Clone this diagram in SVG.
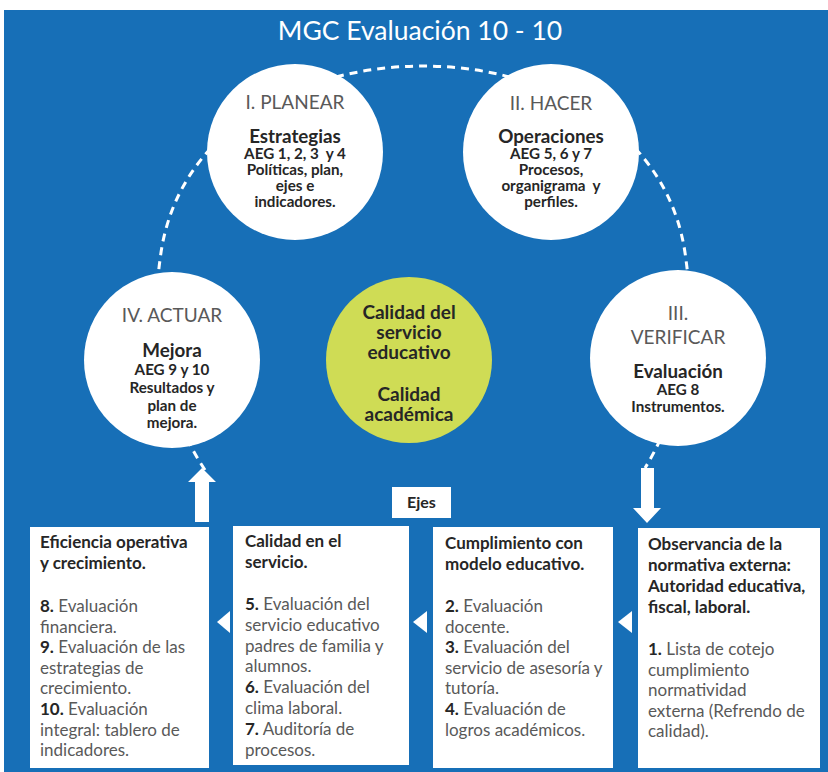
<svg xmlns="http://www.w3.org/2000/svg" width="828" height="772" viewBox="0 0 828 772">
<defs>
<style>
.bg{fill:#176fb7}
.wc{fill:#ffffff}
.yc{fill:#cfdc55}
.dash{fill:none;stroke:#ffffff;stroke-width:3;stroke-dasharray:8 6}
.title{font-family:Lato,"Open Sans",sans-serif;font-size:26.5px;fill:#ffffff;text-anchor:middle}
.ct{font-family:Lato,"Open Sans",sans-serif;font-size:19px;fill:#595959;text-anchor:middle}
.cb{font-family:Lato,"Open Sans",sans-serif;font-size:18.8px;font-weight:bold;fill:#262626;text-anchor:middle}
.cs{font-family:Lato,"Open Sans",sans-serif;font-size:15.2px;font-weight:bold;fill:#262626;text-anchor:middle}
.yt{font-family:Lato,"Open Sans",sans-serif;font-size:19px;font-weight:bold;fill:#262626;text-anchor:middle}
.box{fill:#ffffff}
.bh{font-family:Lato,"Open Sans",sans-serif;font-size:17px;font-weight:bold;fill:#262626}
.bt{font-family:Lato,"Open Sans",sans-serif;font-size:17px;fill:#595959}
.nb{font-weight:bold;fill:#262626}
.arr{fill:#ffffff}
</style>
</defs>
<rect class="bg" x="4" y="10" width="824" height="762"/>
<text class="title" x="420" y="40">MGC Evaluación 10 - 10</text>
<g id="connectors">
<path class="dash" d="M205 470 C165 410 150 330 160 260 C175 130 300 66 423 66 C546 66 671 130 686 260 C696 330 681 410 645 468"/>
<path class="arr" d="M195 522 L195 482 L188 482 L202 468 L216 482 L209 482 L209 522 Z"/>
<path class="arr" d="M641 468 L654 468 L654 508 L661 508 L647 523 L633 508 L641 508 Z"/>
<polygon class="arr" points="217,622 230,611 230,633"/>
<polygon class="arr" points="413,622 427,611 427,633"/>
<polygon class="arr" points="618,622 632,611 632,633"/>
</g>
<g id="planear">
<circle class="wc" cx="295" cy="152" r="88"/>
<text class="ct" x="295" y="109">I. PLANEAR</text>
<text class="cb" x="295" y="143">Estrategias</text>
<text class="cs" x="295" y="159" xml:space="preserve">AEG 1, 2, 3  y 4</text>
<text class="cs" x="295" y="175">Políticas, plan,</text>
<text class="cs" x="295" y="191">ejes e</text>
<text class="cs" x="295" y="207">indicadores.</text>
</g>
<g id="hacer">
<circle class="wc" cx="551" cy="152" r="88"/>
<text class="ct" x="551" y="110">II. HACER</text>
<text class="cb" x="551" y="143">Operaciones</text>
<text class="cs" x="551" y="159">AEG 5, 6 y 7</text>
<text class="cs" x="551" y="175">Procesos,</text>
<text class="cs" x="551" y="191" xml:space="preserve">organigrama  y</text>
<text class="cs" x="551" y="207">perfiles.</text>
</g>
<g id="actuar">
<circle class="wc" cx="172" cy="360" r="88"/>
<text class="ct" x="172" y="322">IV. ACTUAR</text>
<text class="cb" x="172" y="357">Mejora</text>
<text class="cs" x="172" y="375">AEG 9 y 10</text>
<text class="cs" x="172" y="393">Resultados y</text>
<text class="cs" x="172" y="411">plan de</text>
<text class="cs" x="172" y="428">mejora.</text>
</g>
<g id="verificar">
<circle class="wc" cx="678" cy="358" r="88"/>
<text class="ct" x="678" y="320">III.</text>
<text class="ct" x="678" y="344">VERIFICAR</text>
<text class="cb" x="678" y="378">Evaluación</text>
<text class="cs" x="678" y="395">AEG 8</text>
<text class="cs" x="678" y="412">Instrumentos.</text>
</g>
<g id="calidad">
<circle class="yc" cx="409" cy="360" r="83"/>
<text class="yt" x="409" y="319">Calidad del</text>
<text class="yt" x="409" y="339">servicio</text>
<text class="yt" x="409" y="359">educativo</text>
<text class="yt" x="409" y="401">Calidad</text>
<text class="yt" x="409" y="421">académica</text>
</g>
<g id="ejes">
<rect class="box" x="392" y="487" width="59" height="31"/>
<text class="bh" x="421.5" y="508" text-anchor="middle" style="font-size:16px">Ejes</text>
</g>
<g id="eficiencia">
<rect class="box" x="30" y="527" width="179" height="241"/>
<text class="bh" x="40" y="548">Eficiencia operativa</text>
<text class="bh" x="40" y="569">y crecimiento.</text>
<text class="bt" x="40" y="612"><tspan class="nb">8.</tspan> Evaluación</text>
<text class="bt" x="40" y="632.6">financiera.</text>
<text class="bt" x="40" y="653.2"><tspan class="nb">9.</tspan> Evaluación de las</text>
<text class="bt" x="40" y="673.8">estrategias de</text>
<text class="bt" x="40" y="694.4">crecimiento.</text>
<text class="bt" x="40" y="715"><tspan class="nb">10.</tspan> Evaluación</text>
<text class="bt" x="40" y="735.6">integral: tablero de</text>
<text class="bt" x="40" y="756.2">indicadores.</text>
</g>
<g id="servicio">
<rect class="box" x="233" y="526" width="176" height="239"/>
<text class="bh" x="245" y="547">Calidad en el</text>
<text class="bh" x="245" y="568">servicio.</text>
<text class="bt" x="245" y="610"><tspan class="nb">5.</tspan> Evaluación del</text>
<text class="bt" x="245" y="630.8">servicio educativo</text>
<text class="bt" x="245" y="651.6">padres de familia y</text>
<text class="bt" x="245" y="672.4">alumnos.</text>
<text class="bt" x="245" y="693.2"><tspan class="nb">6.</tspan> Evaluación del</text>
<text class="bt" x="245" y="714">clima laboral.</text>
<text class="bt" x="245" y="734.8"><tspan class="nb">7.</tspan> Auditoría de</text>
<text class="bt" x="245" y="755.6">procesos.</text>
</g>
<g id="cumplimiento">
<rect class="box" x="433" y="527" width="180" height="241"/>
<text class="bh" x="445" y="549">Cumplimiento con</text>
<text class="bh" x="445" y="570">modelo educativo.</text>
<text class="bt" x="445" y="612"><tspan class="nb">2.</tspan> Evaluación</text>
<text class="bt" x="445" y="632.6">docente.</text>
<text class="bt" x="445" y="653.2"><tspan class="nb">3.</tspan> Evaluación del</text>
<text class="bt" x="445" y="673.8">servicio de asesoría y</text>
<text class="bt" x="445" y="694.4">tutoría.</text>
<text class="bt" x="445" y="715"><tspan class="nb">4.</tspan> Evaluación de</text>
<text class="bt" x="445" y="735.6">logros académicos.</text>
</g>
<g id="observancia">
<rect class="box" x="638" y="528" width="182" height="240"/>
<text class="bh" x="648" y="550">Observancia de la</text>
<text class="bh" x="648" y="571">normativa externa:</text>
<text class="bh" x="648" y="592">Autoridad educativa,</text>
<text class="bh" x="648" y="613">fiscal, laboral.</text>
<text class="bt" x="648" y="655"><tspan class="nb">1.</tspan> Lista de cotejo</text>
<text class="bt" x="648" y="675.6">cumplimiento</text>
<text class="bt" x="648" y="696.2">normatividad</text>
<text class="bt" x="648" y="716.8">externa (Refrendo de</text>
<text class="bt" x="648" y="737.4">calidad).</text>
</g>
</svg>
